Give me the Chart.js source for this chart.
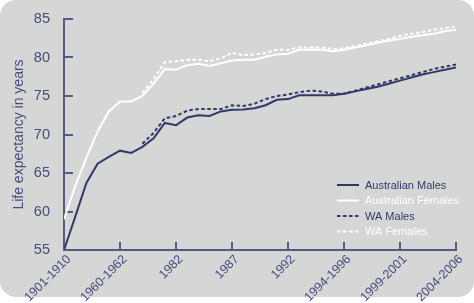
<!DOCTYPE html>
<html>
<head>
<meta charset="utf-8">
<script src="https://cdn.jsdelivr.net/npm/chart.js@4.4.0/dist/chart.umd.min.js"></script>
<style>
  html, body { margin: 0; padding: 0; background: #fff; }
  #wrap { position: relative; width: 474px; height: 303px; }
  #panel { position: absolute; left: 0; top: 0; width: 474px; height: 297px; background: #d5d7d6; border-radius: 16px; }
  #chart { position: absolute; left: 0; top: 0; }
</style>
</head>
<body>
<div id="wrap">
  <div id="panel"></div>
  <canvas id="chart" width="474" height="303"></canvas>
</div>
<script>
// x positions are period indexes, a label every 5th point
const tickLabels = ['1901-1910', '1960-1962', '1982', '1987', '1992', '1994-1996', '1999-2001', '2004-2006'];

const ausMales = [55.0, 59.3, 63.7, 66.2, 67.1, 67.9, 67.6, 68.4, 69.5, 71.5,
  71.2, 72.2, 72.5, 72.4, 73.0, 73.2, 73.25, 73.4, 73.8, 74.5,
  74.6, 75.1, 75.1, 75.1, 75.1, 75.3, 75.6, 75.9, 76.2, 76.6,
  77.0, 77.4, 77.8, 78.1, 78.4, 78.7];
const ausFemales = [59.0, 63.3, 67.0, 70.4, 73.0, 74.3, 74.3, 75.0, 76.6, 78.5,
  78.4, 79.0, 79.2, 78.9, 79.25, 79.6, 79.7, 79.7, 80.1, 80.4,
  80.5, 81.0, 81.0, 81.0, 80.8, 81.0, 81.3, 81.6, 81.9, 82.2,
  82.4, 82.7, 82.9, 83.1, 83.4, 83.6];
const waMales = [null, null, null, null, null, null, null, 68.8, 70.2, 72.1,
  72.4, 73.1, 73.3, 73.3, 73.3, 73.8, 73.7, 74.0, 74.6, 75.0,
  75.2, 75.5, 75.7, 75.6, 75.3, 75.3, 75.7, 76.1, 76.5, 76.9,
  77.3, 77.7, 78.1, 78.5, 78.8, 79.1];
const waFemales = [null, null, null, null, null, null, null, 75.4, 77.2, 79.4,
  79.5, 79.7, 79.7, 79.5, 79.9, 80.6, 80.3, 80.4, 80.6, 81.0,
  81.0, 81.3, 81.3, 81.3, 81.1, 81.2, 81.5, 81.8, 82.1, 82.4,
  82.8, 83.1, 83.3, 83.6, 83.8, 84.0];

const NAVY = '#33376a';
const TEXT = '#474b7a';
const AXIS = '#585b7d';
const FONT = "'Liberation Sans', Arial, sans-serif";

const toPoints = arr => arr.map((v, i) => ({ x: i, y: v }));

const series = [
  { label: 'Australian Males', data: ausMales, color: NAVY, dash: [] , text: NAVY },
  { label: 'Australian Females', data: ausFemales, color: '#ffffff', dash: [], text: '#ffffff' },
  { label: 'WA Males', data: waMales, color: NAVY, dash: [3.5, 2.5], text: NAVY },
  { label: 'WA Females', data: waFemales, color: '#ffffff', dash: [3.5, 2.5], text: '#ffffff' }
];

// tick marks point inward, so draw them ourselves
const innerTicks = {
  id: 'innerTicks',
  beforeDatasetsDraw(chart) {
    const { ctx, chartArea, scales: { x, y } } = chart;
    ctx.save();
    ctx.strokeStyle = AXIS;
    ctx.lineWidth = 2;
    y.ticks.forEach(t => {
      const py = Math.round(y.getPixelForValue(t.value));
      ctx.beginPath();
      ctx.moveTo(chartArea.left, py);
      ctx.lineTo(chartArea.left + 9, py);
      ctx.stroke();
    });
    x.ticks.forEach(t => {
      if (t.value === 0) return;
      const px = Math.round(x.getPixelForValue(t.value));
      ctx.beginPath();
      ctx.moveTo(px, chartArea.bottom);
      ctx.lineTo(px, chartArea.bottom - 8);
      ctx.stroke();
    });
    ctx.restore();
  }
};

const boxLegend = {
  id: 'boxLegend',
  afterDraw(chart) {
    const ctx = chart.ctx;
    ctx.save();
    ctx.font = '11px ' + FONT;
    ctx.textBaseline = 'middle';
    series.forEach((s, i) => {
      const y = 185 + i * 15.5;
      ctx.strokeStyle = s.color;
      ctx.lineWidth = 2;
      ctx.setLineDash(s.dash);
      ctx.beginPath();
      ctx.moveTo(337, y);
      ctx.lineTo(359, y);
      ctx.stroke();
      ctx.setLineDash([]);
      ctx.fillStyle = s.text;
      ctx.fillText(s.label, 365, y + 0.5);
    });
    ctx.restore();
  }
};

new Chart(document.getElementById('chart'), {
  type: 'line',
  data: {
    datasets: series.map(s => ({
      label: s.label,
      data: toPoints(s.data),
      borderColor: s.color,
      borderWidth: 2,
      borderDash: s.dash,
      pointRadius: 0,
      tension: 0,
      fill: false
    }))
  },
  options: {
    responsive: false,
    animation: false,
    layout: { padding: { top: 19, right: 18, left: 0, bottom: 0 } },
    plugins: { legend: { display: false }, tooltip: { enabled: false } },
    scales: {
      x: {
        type: 'linear',
        min: 0,
        max: 35,
        grid: { display: false },
        border: { display: true, color: AXIS, width: 2 },
        ticks: {
          stepSize: 5,
          autoSkip: false,
          maxRotation: 45,
          minRotation: 45,
          padding: -6,
          labelOffset: 5,
          color: TEXT,
          font: { family: FONT, size: 12.5 },
          callback: v => tickLabels[v / 5]
        },
        afterFit: s => { s.height = 53; }
      },
      y: {
        min: 55,
        max: 85,
        grid: { display: false },
        border: { display: true, color: AXIS, width: 2 },
        ticks: {
          stepSize: 5,
          padding: 6,
          color: TEXT,
          font: { family: FONT, size: 14.5 }
        },
        title: {
          display: true,
          text: 'Life expectancy in years',
          color: TEXT,
          font: { family: FONT, size: 14 },
          padding: { top: 11, bottom: 0 }
        },
        afterFit: s => { s.width = 64; }
      }
    }
  },
  plugins: [innerTicks, boxLegend]
});
</script>
</body>
</html>
